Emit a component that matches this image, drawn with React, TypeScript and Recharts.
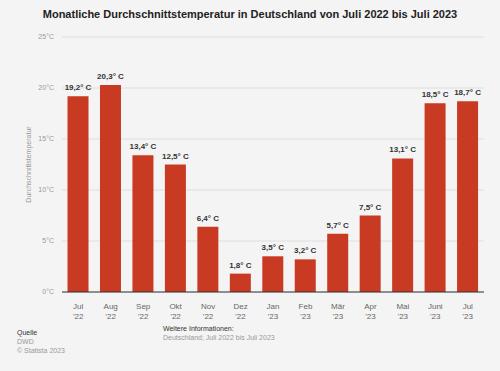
import React from 'react';
import { BarChart, Bar, XAxis, YAxis, CartesianGrid, LabelList } from 'recharts';

const months = ['Jul', 'Aug', 'Sep', 'Okt', 'Nov', 'Dez', 'Jan', 'Feb', 'Mär', 'Apr', 'Mai', 'Juni', 'Jul'];
const years = ["'22", "'22", "'22", "'22", "'22", "'22", "'23", "'23", "'23", "'23", "'23", "'23", "'23"];
const temps = [19.2, 20.3, 13.4, 12.5, 6.4, 1.8, 3.5, 3.2, 5.7, 7.5, 13.1, 18.5, 18.7];
const yTicks = [0, 5, 10, 15, 20, 25];

const data = months.map((m, i) => ({ key: `${m} ${years[i]}`, month: m, year: years[i], temp: temps[i] }));

const FONT = 'Arial, "Liberation Sans", sans-serif';
const BAR = '#c93a22';

const fmt = (v: number) => `${v.toFixed(1).replace('.', ',')}° C`;

const MonthTick = (props: any) => {
  const { x, y, payload } = props;
  const d = data[payload.index] ?? data.find((r) => r.key === payload.value);
  return (
    <g transform={`translate(${x},${y})`}>
      <text textAnchor="middle" fontSize={8} fill="#666" fontFamily={FONT}>
        <tspan x={0} dy={9}>{d?.month}</tspan>
        <tspan x={0} dy={10}>{d?.year}</tspan>
      </text>
    </g>
  );
};

const ValueLabel = (props: any) => {
  const { x, y, width, value } = props;
  return (
    <text
      x={Number(x) + Number(width) / 2}
      y={Number(y) - 6}
      textAnchor="middle"
      fontSize={8}
      fontWeight="bold"
      fill="#333"
      fontFamily={FONT}
      style={{ whiteSpace: 'pre' }}
    >
      {fmt(Number(value))}
    </text>
  );
};

export default function App() {
  return (
    <div style={{ position: 'absolute', left: 0, top: 0, width: 500, height: 371, background: '#f4f4f4', fontFamily: FONT }}>
      <div style={{ position: 'absolute', top: 8, width: 500, textAlign: 'center', fontSize: 11, fontWeight: 'bold', color: '#222' }}>
        Monatliche Durchschnittstemperatur in Deutschland von Juli 2022 bis Juli 2023
      </div>
      <BarChart
        width={500}
        height={371}
        data={data}
        margin={{ top: 37, right: 16, left: 24, bottom: 49 }}
        barCategoryGap="17%"
      >
        <CartesianGrid vertical={false} stroke="#dedede" />
        <XAxis
          dataKey="key"
          height={30}
          interval={0}
          tick={<MonthTick />}
          tickLine={false}
          axisLine={{ stroke: '#333', strokeWidth: 1 }}
        />
        <YAxis
          width={38}
          domain={[0, 25]}
          ticks={yTicks}
          tickFormatter={(v: number) => `${v}°C`}
          tick={{ fontSize: 7, fill: '#999', fontFamily: FONT }}
          tickLine={false}
          axisLine={false}
          label={{
            value: 'Durchschnittstemperatur',
            angle: -90,
            position: 'insideLeft',
            offset: 5,
            style: { fontSize: 7, fill: '#999', fontFamily: FONT, textAnchor: 'middle' },
          }}
        />
        <Bar dataKey="temp" fill={BAR} isAnimationActive={false}>
          <LabelList dataKey="temp" content={<ValueLabel />} />
        </Bar>
      </BarChart>
      <div style={{ position: 'absolute', left: 17, top: 328, fontSize: 7, lineHeight: '9px', color: '#999' }}>
        <div style={{ color: '#333' }}>Quelle</div>
        <div>DWD</div>
        <div>© Statista 2023</div>
      </div>
      <div style={{ position: 'absolute', left: 163, top: 324, fontSize: 7, lineHeight: '9px', color: '#999' }}>
        <div style={{ color: '#333' }}>Weitere Informationen:</div>
        <div>Deutschland; Juli 2022 bis Juli 2023</div>
      </div>
    </div>
  );
}
